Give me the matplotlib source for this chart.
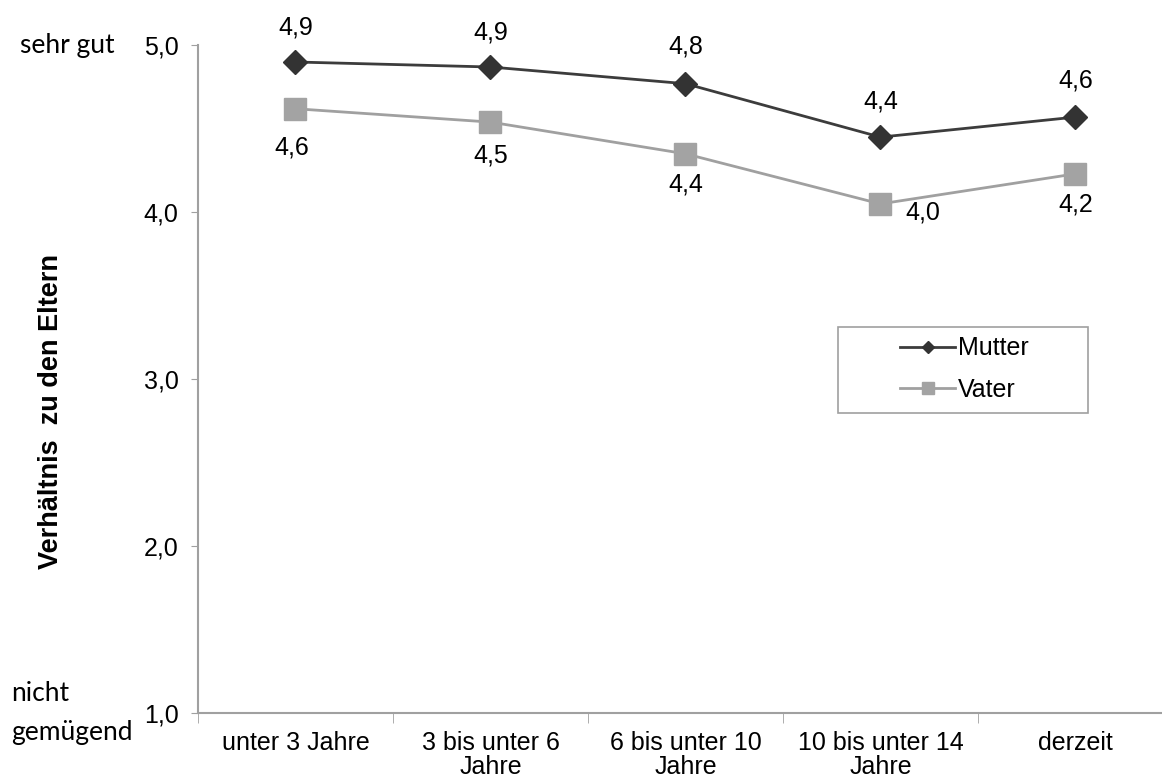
import numpy as np
import matplotlib.pyplot as plt
from matplotlib.patches import Rectangle

categories = ['unter 3 Jahre', '3 bis unter 6\nJahre', '6 bis unter 10\nJahre',
              '10 bis unter 14\nJahre', 'derzeit']
mutter = [4.90, 4.87, 4.77, 4.45, 4.57]
vater = [4.62, 4.54, 4.35, 4.05, 4.23]
mutter_labels = ['4,9', '4,9', '4,8', '4,4', '4,6']
vater_labels = ['4,6', '4,5', '4,4', '4,0', '4,2']
y_ticks = [1, 2, 3, 4, 5]
y_ticklabels = ['1,0', '2,0', '3,0', '4,0', '5,0']

# label offsets in points (like Excel places them)
mutter_off = [(0, 25), (0, 25), (0, 27), (0, 26), (0, 26)]
vater_off = [(-3, -28), (0, -24), (0, -22), (18, -6), (0, -22)]

plt.rcParams['font.family'] = ['Liberation Sans', 'DejaVu Sans']

fig = plt.figure(figsize=(11.62, 7.81), dpi=100)
ax = fig.add_axes([0.1704, 0.087, 0.839, 0.855])

x = np.arange(len(categories))
ax.plot(x, mutter, color='#3c3c3c', lw=2, marker='D', markersize=12,
        markerfacecolor='#333333', markeredgecolor='#333333', label='Mutter', zorder=3)
ax.plot(x, vater, color='#a0a0a0', lw=2, marker='s', markersize=16,
        markerfacecolor='#a3a3a3', markeredgecolor='#a3a3a3', label='Vater', zorder=3)

for i in range(len(x)):
    ax.annotate(mutter_labels[i], (x[i], mutter[i]), xytext=mutter_off[i],
                textcoords='offset points', ha='center', va='center', fontsize=18)
    ha = 'left' if vater_off[i][0] > 5 else 'center'
    ax.annotate(vater_labels[i], (x[i], vater[i]), xytext=vater_off[i],
                textcoords='offset points', ha=ha, va='center', fontsize=18)

ax.set_xlim(-0.5, len(categories) - 0.5)
ax.set_ylim(1, 5)
ax.set_yticks(y_ticks)
ax.set_yticklabels(y_ticklabels, fontsize=18)
ax.set_xticks(x)
ax.set_xticklabels(categories, fontsize=18, linespacing=1.0)
ax.set_xticks(np.arange(len(categories)) - 0.5, minor=True)
ax.tick_params(axis='x', which='major', length=0, pad=13)
ax.tick_params(axis='x', which='minor', length=7, color='#a0a0a0', direction='out')
ax.tick_params(axis='y', length=5, color='#a0a0a0', direction='out', pad=9)

for s in ['top', 'right']:
    ax.spines[s].set_visible(False)
for s in ['left', 'bottom']:
    ax.spines[s].set_color('#a0a0a0')
    ax.spines[s].set_linewidth(1.5)

ax.set_ylabel('Verhältnis  zu den Eltern', fontsize=19.5, fontweight='bold',
              family=['Liberation Sans', 'DejaVu Sans'])
ax.yaxis.set_label_coords(-0.1375, 0.452)

fig.text(0.017, 0.942, 'sehr gut', fontsize=19, family=['Lato', 'DejaVu Sans'],
         ha='left', va='center')
fig.text(0.010, 0.087, 'nicht\ngemügend', fontsize=19, family=['Lato', 'DejaVu Sans'],
         ha='left', va='center', linespacing=1.7)

ax.add_patch(Rectangle((0.656, 0.449), 0.257, 0.129, transform=ax.transAxes,
                       fill=False, edgecolor='#a0a0a0', lw=1.2, zorder=4))
leg = ax.legend(loc='center', bbox_to_anchor=(0.786, 0.515), fontsize=18,
                frameon=False, handlelength=2.2, handletextpad=0.1,
                labelspacing=0.7, markerscale=0.55)

fig.savefig('out.png', dpi=100)
